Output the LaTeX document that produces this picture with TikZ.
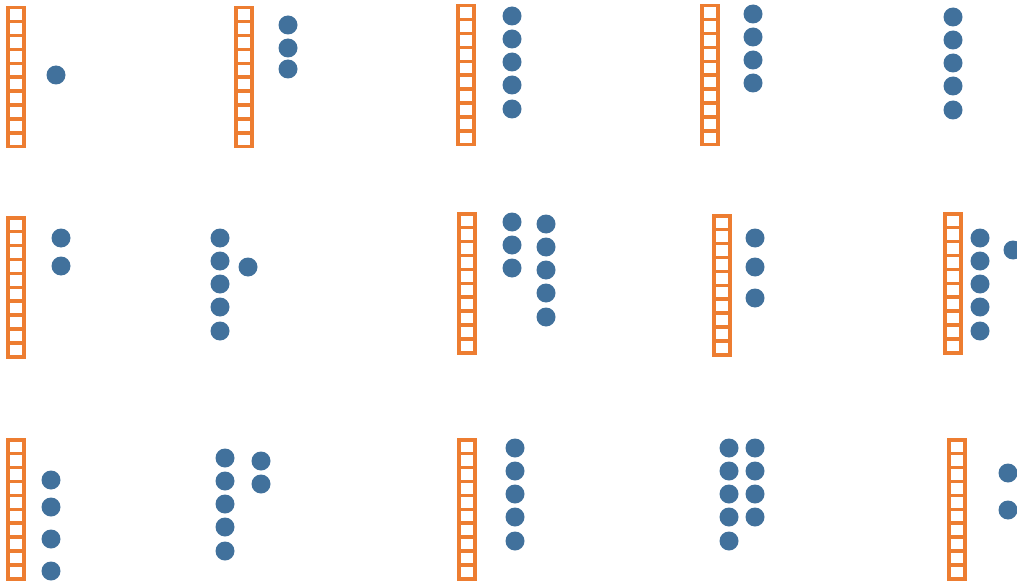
\documentclass[tikz,border=0pt]{standalone}
\usetikzlibrary{calc}
\definecolor{lorange}{HTML}{ED7D31}
\definecolor{dblue}{HTML}{41719C}
\tikzset{
  dot/.style={circle,fill=dblue,draw=none,minimum size=19pt,inner sep=0pt},
  ladderline/.style={draw=lorange,line width=3.5pt}
}
\newcommand\myladder[2]{%
  \draw[ladderline] (#1+1.75,#2+1.75) rectangle (#1+17.75,#2+140.75);
  \foreach \k in {1,...,9}{\draw[ladderline] (#1+1.75,#2+1.75+13.9*\k) -- (#1+17.75,#2+1.75+13.9*\k);}
}
\begin{document}
\begin{tikzpicture}[x=1pt,y=-1pt]
\useasboundingbox (0,0) rectangle (1017,583);
% Row 1
\myladder{6}{6}
\node[dot] (a1) at (56,75) {};
\myladder{234}{6}
\foreach \y [count=\i] in {25,48,69} \node[dot] (b\i) at (288,\y) {};
\myladder{456}{4}
\foreach \y [count=\i] in {16,39,62,85,109} \node[dot] (c\i) at (512,\y) {};
\myladder{700}{4}
\foreach \y [count=\i] in {14,37,60,83} \node[dot] (d\i) at (753,\y) {};
\foreach \y [count=\i] in {17,40,63,86,110} \node[dot] (e\i) at (953,\y) {};
% Row 2
\myladder{6}{216}
\foreach \y [count=\i] in {238,266} \node[dot] (f\i) at (61,\y) {};
\foreach \y [count=\i] in {238,261,284,307,331} \node[dot] (g\i) at (220,\y) {};
\node[dot] (g6) at (248,267) {};
\myladder{457}{212}
\foreach \y [count=\i] in {222,245,268} \node[dot] (h\i) at (512,\y) {};
\foreach \y [count=\i] in {224,247,270,293,317} \node[dot] (hh\i) at (546,\y) {};
\myladder{712}{214}
\foreach \y [count=\i] in {238,267,298} \node[dot] (i\i) at (755,\y) {};
\myladder{943}{212}
\foreach \y [count=\i] in {238,261,284,307,331} \node[dot] (j\i) at (980,\y) {};
\node[dot] (j6) at (1013,250) {};
% Row 3
\myladder{6}{438}
\foreach \y [count=\i] in {480,507,539,571} \node[dot] (k\i) at (51,\y) {};
\foreach \y [count=\i] in {458,481,504,527,551} \node[dot] (l\i) at (225,\y) {};
\foreach \y [count=\i] in {461,484} \node[dot] (ll\i) at (261,\y) {};
\myladder{457}{438}
\foreach \y [count=\i] in {448,471,494,517,541} \node[dot] (m\i) at (515,\y) {};
\foreach \y [count=\i] in {448,471,494,517,541} \node[dot] (n\i) at (729,\y) {};
\foreach \y [count=\i] in {448,471,494,517} \node[dot] (nn\i) at (755,\y) {};
\myladder{947}{438}
\foreach \y [count=\i] in {473,510} \node[dot] (o\i) at (1008,\y) {};
\end{tikzpicture}
\end{document}
